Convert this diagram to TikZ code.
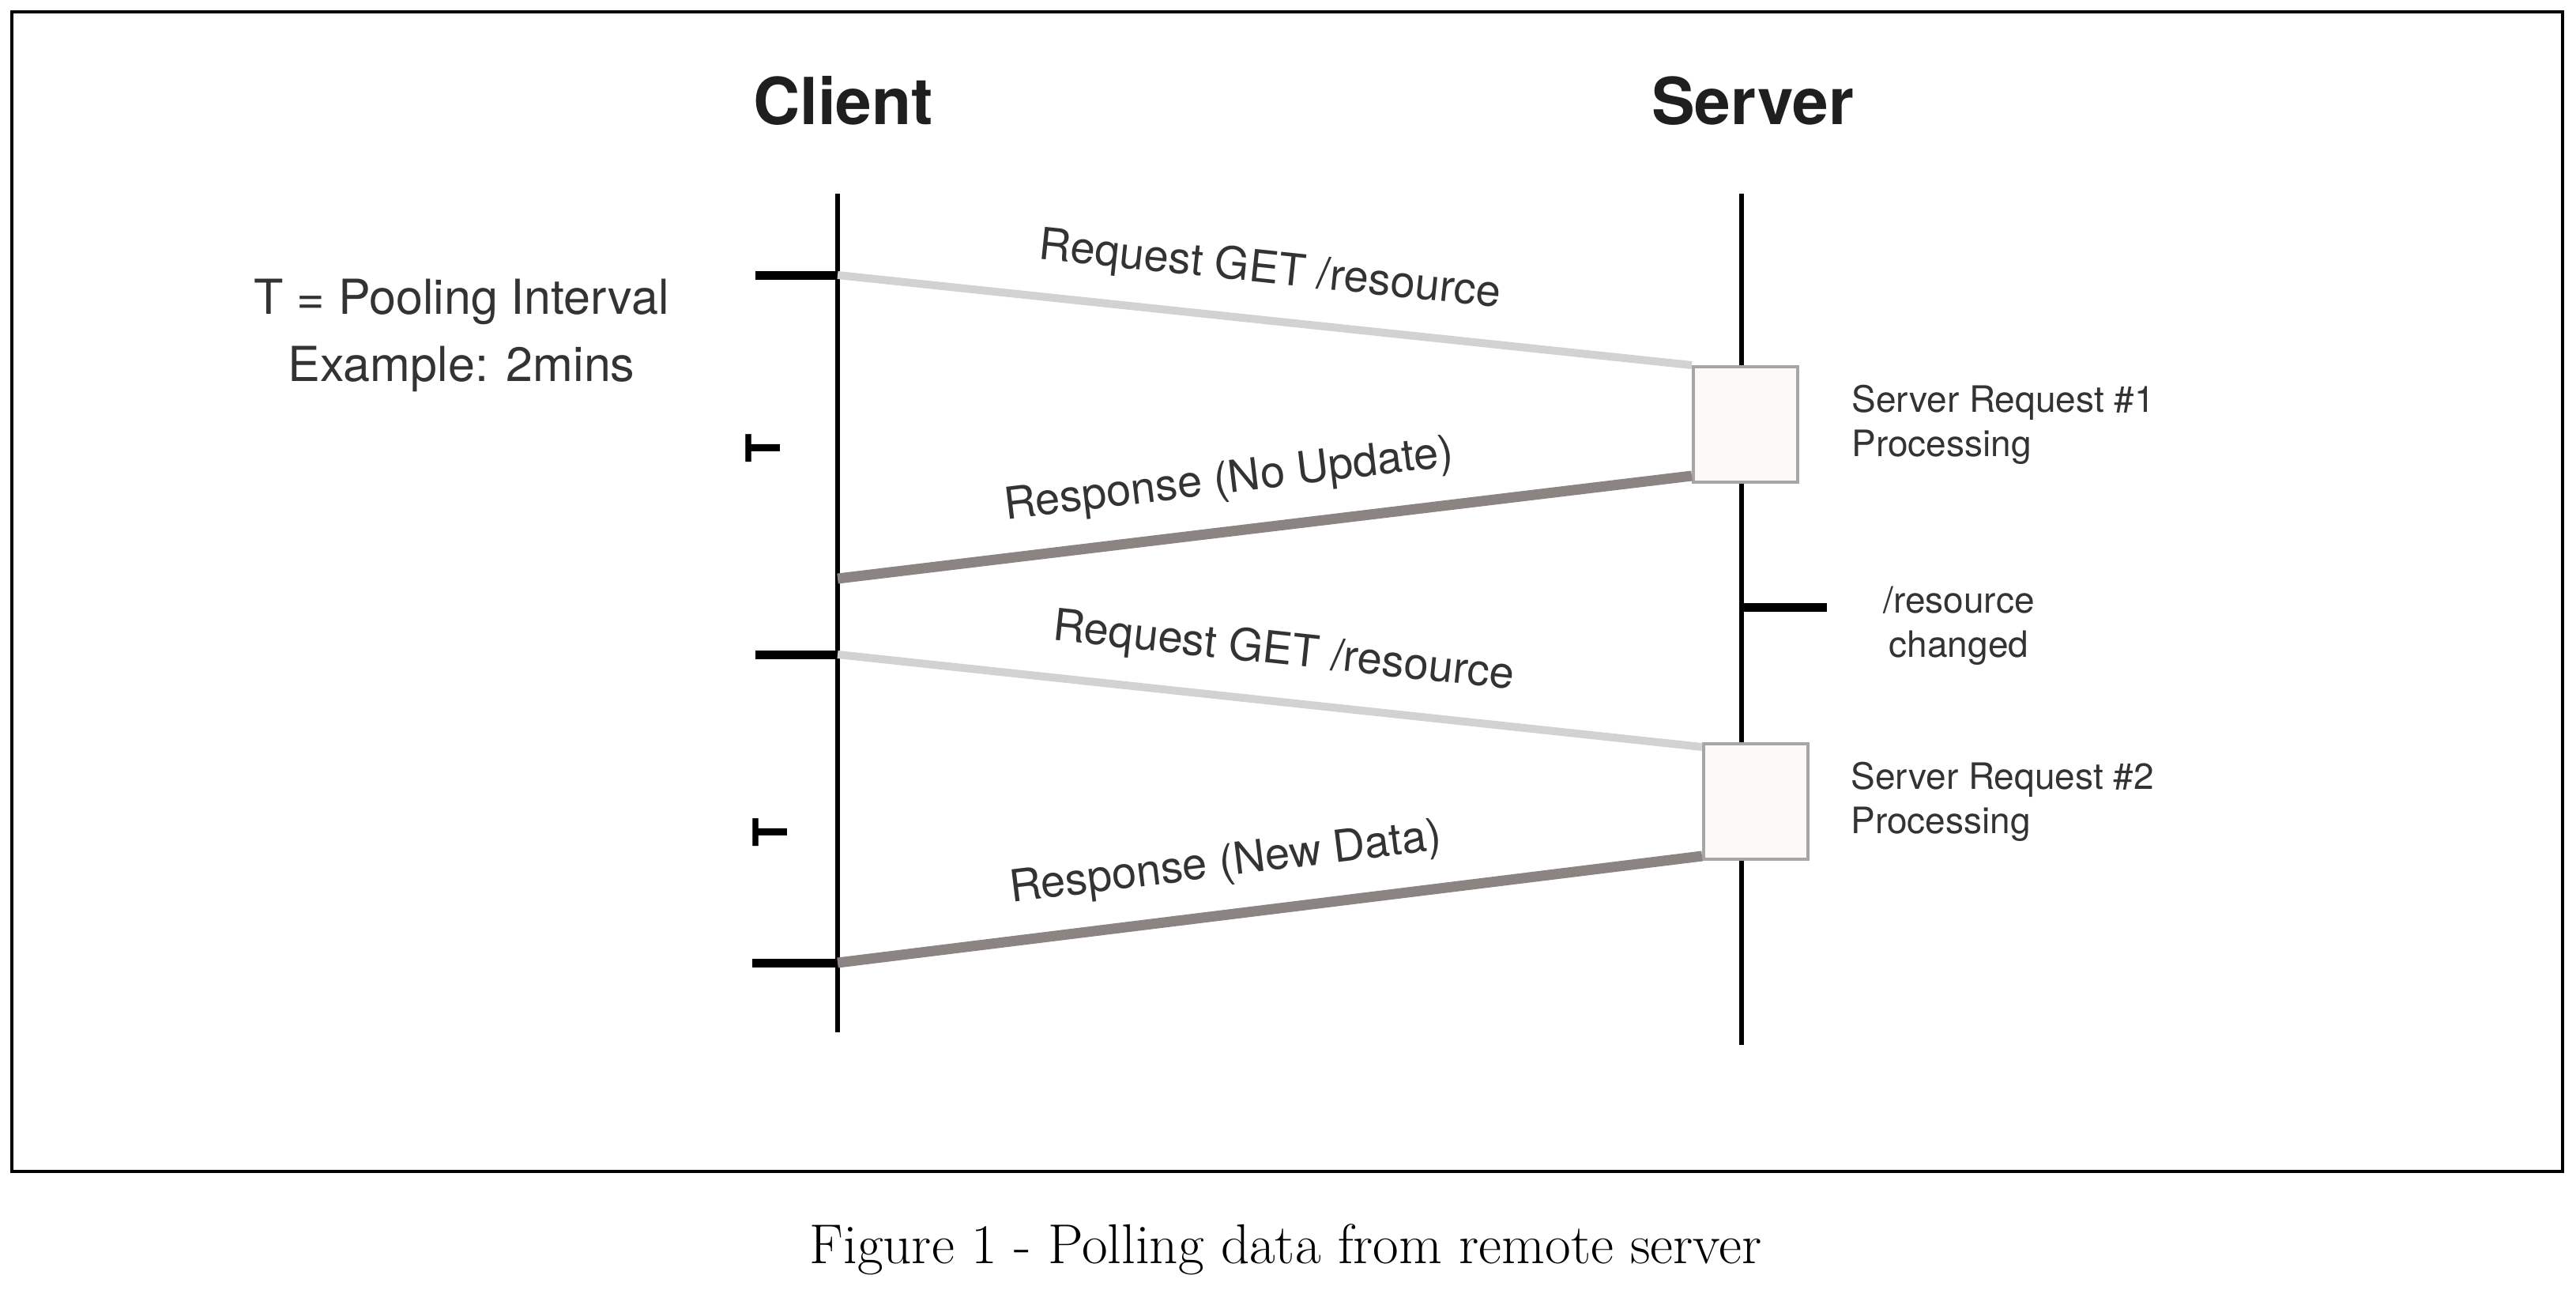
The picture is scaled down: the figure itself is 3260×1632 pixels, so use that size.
\documentclass[tikz,border=0pt]{standalone}
\usepackage{fontspec}
\usepackage{tikz}
\usetikzlibrary{positioning}
\newfontfamily\heros{TeX Gyre Heros}
\definecolor{reqgray}{HTML}{D2D2D2}
\definecolor{respgray}{HTML}{8C8383}
\definecolor{boxfill}{HTML}{FDF9F9}
\definecolor{boxline}{HTML}{A6A6A6}
\definecolor{txtgray}{HTML}{333333}

\begin{document}
\begin{tikzpicture}[
x=0.5pt, y=-0.5pt,
mylife/.style={line width=3pt, black},
mytick/.style={line width=5.5pt, black},
myreq/.style={line width=5pt, reqgray},
myresp/.style={line width=6.5pt, respgray},
mybox/.style={rectangle,
  draw=boxline,
  line width=2pt,
  fill=boxfill,
  minimum width=66pt,
  minimum height=73pt,
},
mytitle/.style={inner sep=0pt,
  font=\heros\bfseries\fontsize{41}{49}\selectfont,
  text=black!88
},
mylabel/.style={sloped, above=15pt, inner sep=0pt,
  font=\heros\fontsize{28}{34}\selectfont,
  text=txtgray
},
mynote/.style={inner sep=0pt,
  font=\heros\fontsize{23}{28}\selectfont,
  text=txtgray
},
mytee/.style={inner sep=0pt, rotate=90,
  font=\heros\bfseries\fontsize{30}{36}\selectfont
},
]
\useasboundingbox (0,0) rectangle (3260,1632);
\draw[line width=2pt] (15,15) rectangle (3243,1482);

\coordinate (ctop) at (1060,245);
\coordinate (cbot) at (1060,1306);
\coordinate (stop) at (2204,245);
\coordinate (sbot) at (2204,1322);
\coordinate (c1) at (1060,348);
\coordinate (c2) at (1060,732);
\coordinate (c3) at (1060,828);
\coordinate (c4) at (1060,1218);
\coordinate (s1) at (2204,768);

\node[mytitle, above=43pt of ctop, xshift=3.5pt] (client)
    {Client};
\node[mytitle, above=43pt of stop, xshift=7pt] (server)
    {Server};

\draw[mylife] (ctop) -- (cbot);
\draw[mylife] (stop) -- (sbot);

\draw[mytick] (c1) -- ++(-104,0);
\draw[mytick] (c3) -- ++(-104,0);
\draw[mytick] (c4) -- ++(-108,0);
\draw[mytick] (s1) -- ++(108,0);

\node[mybox] (proc1) at (2209,537)
    {};
\node[mybox] (proc2) at (2222,1014)
    {};

\draw[myreq] (c1) -- (proc1.north west)
    node[mylabel, pos=0.5] {Request GET /resource};
\draw[myresp] (c2) -- ([yshift=5pt]proc1.south west)
    node[mylabel, pos=0.465] {Response (No Update)};
\draw[myreq] (c3) -- ([yshift=-3pt]proc2.north west)
    node[mylabel, pos=0.51] {Request GET /resource};
\draw[myresp] (c4) -- ([yshift=3pt]proc2.south west)
    node[mylabel, pos=0.456] {Response (New Data)};

\node[mynote, align=left, right=33pt of proc1] (note1)
    {Server Request \#1\\Processing};
\node[mynote, align=left, right=26pt of proc2] (note2)
    {Server Request \#2\\Processing};
\node[mynote, align=center] (changed) at (2479,792)
    {/resource\\changed};

\node[mytee] (tee1) at (966,567)
    {T};
\node[mytee] (tee2) at (975,1053)
    {T};

\node[inner sep=0pt, align=center, text=txtgray,
  font=\heros\fontsize{30.5}{42.5}\selectfont] (interval) at (584,424)
    {T = Pooling Interval\\Example: 2mins};

\node[anchor=base, inner sep=0pt, font=\fontsize{35.5}{40}\selectfont] (caption) at (1627,1598)
    {Figure 1 - Polling data from remote server};
\end{tikzpicture}
\end{document}
